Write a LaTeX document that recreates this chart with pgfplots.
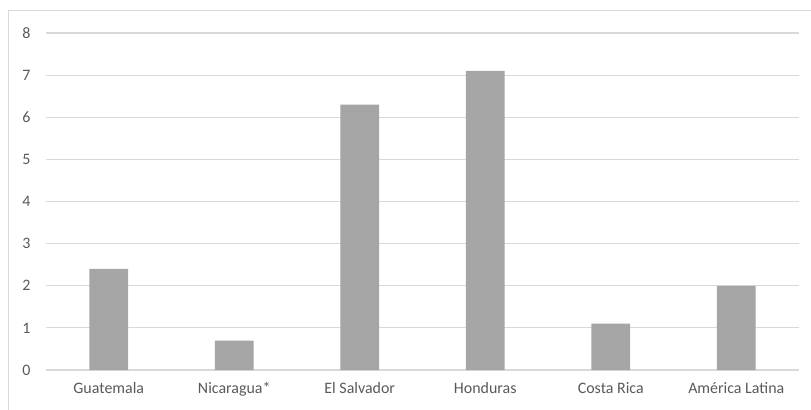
\documentclass[border=0pt]{standalone}
\usepackage{pgfplots}
\pgfplotsset{compat=1.18}
\usepackage{fontspec}
\setmainfont{Carlito}
\definecolor{labelgray}{HTML}{595959}
\definecolor{linegray}{HTML}{D9D9D9}
\definecolor{bargray}{HTML}{A5A5A5}
\begin{document}
\begin{tikzpicture}[x=1bp,y=1bp]
\useasboundingbox (0,0) rectangle (811,409);
% chart frame (extends past the right and bottom edges)
\draw[draw=linegray, line width=1bp] (8.5,-5) -- (8.5,398) -- (820,398);
\begin{axis}[
  at={(46bp,39bp)}, anchor=south west,
  scale only axis, width=753bp, height=337bp,
  xmin=-0.5, xmax=5.5, ymin=0, ymax=8,
  ytick={0,...,8},
  xtick=data,
  xticklabels={Guatemala,Nicaragua*,El Salvador,Honduras,Costa Rica,América Latina},
  axis line style={draw=none},
  xtick style={draw=none}, ytick style={draw=none},
  xmajorgrids=false, ymajorgrids=true,
  major grid style={draw=linegray, line width=1.2bp},
  tick label style={font=\fontsize{16}{19}\selectfont, text=labelgray},
  /pgf/number format/assume math mode=true,
  yticklabel style={anchor=east, xshift=-12bp},
  xticklabel style={anchor=north, yshift=-9bp},
  clip=false,
]
\draw[draw=linegray, line width=1.2bp] (axis cs:-0.5,0) -- (axis cs:5.5,0);
\addplot[ybar, bar width=0.31, fill=bargray, draw=none] coordinates {
  (0,2.4) (1,0.7) (2,6.3) (3,7.1) (4,1.1) (5,2.0)
};
\end{axis}
\end{tikzpicture}
\end{document}
